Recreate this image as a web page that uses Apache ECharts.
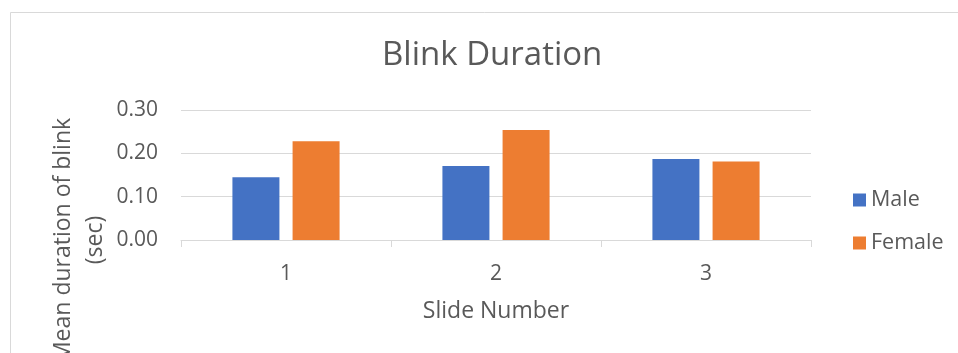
<!DOCTYPE html>
<html>
<head>
<meta charset="utf-8">
<script src="https://cdn.jsdelivr.net/npm/echarts@6/dist/echarts.min.js"></script>
<style>
  html, body { margin: 0; padding: 0; background: #ffffff; }
  #chart { width: 958px; height: 353px; }
</style>
</head>
<body>
<div id="chart"></div>
<script>
// Mean blink duration per slide, split by gender
const slides = ['1', '2', '3'];
const maleValues = [0.145, 0.171, 0.187];
const femaleValues = [0.228, 0.254, 0.181];
const seriesNames = ['Male', 'Female'];
const chartTitle = 'Blink Duration';
const xAxisTitle = 'Slide Number';
const yAxisTitle = 'Mean duration of blink\n(sec)';

const textColor = '#595959';
const lineColor = '#d9d9d9';
const fontFamily = '"Open Sans", "Segoe UI", sans-serif';

const chart = echarts.init(document.getElementById('chart'), null, { renderer: 'canvas' });

chart.setOption({
  backgroundColor: '#ffffff',
  animation: false,
  title: {
    text: chartTitle,
    left: 382,
    top: 39,
    padding: 0,
    textStyle: { color: textColor, fontFamily: fontFamily, fontSize: 33, fontWeight: 'normal' }
  },
  legend: {
    orient: 'vertical',
    left: 853,
    top: 189,
    itemWidth: 13,
    itemHeight: 13,
    itemGap: 21,
    padding: 0,
    icon: 'rect',
    textStyle: { color: textColor, fontFamily: fontFamily, fontSize: 21.5 },
    data: seriesNames
  },
  grid: { left: 181, right: 147, top: 110, bottom: 113, containLabel: false },
  xAxis: {
    type: 'category',
    data: slides,
    name: xAxisTitle,
    nameLocation: 'middle',
    nameGap: 60,
    nameTextStyle: { color: textColor, fontFamily: fontFamily, fontSize: 23 },
    axisLine: { lineStyle: { color: lineColor, width: 1 } },
    axisTick: { show: true, alignWithLabel: false, length: 7, lineStyle: { color: lineColor } },
    axisLabel: { color: textColor, fontFamily: fontFamily, fontSize: 21, margin: 24 }
  },
  yAxis: {
    type: 'value',
    min: 0,
    max: 0.3,
    interval: 0.1,
    axisLine: { show: false },
    axisTick: { show: false },
    splitLine: { lineStyle: { color: lineColor, width: 1 } },
    axisLabel: {
      color: textColor,
      fontFamily: fontFamily,
      fontSize: 21,
      margin: 23,
      formatter: v => v.toFixed(2)
    }
  },
  series: [
    {
      name: seriesNames[0],
      type: 'bar',
      data: maleValues,
      barWidth: 47,
      barGap: '28%',
      itemStyle: { color: '#4472C4' }
    },
    {
      name: seriesNames[1],
      type: 'bar',
      data: femaleValues,
      barWidth: 47,
      barGap: '28%',
      itemStyle: { color: '#ED7D31' }
    }
  ],
  graphic: [
    {
      type: 'rect',
      silent: true,
      z: -1,
      shape: { x: 10.5, y: 12.5, width: 1000, height: 400 },
      style: { fill: 'none', stroke: lineColor, lineWidth: 1 }
    },
    {
      type: 'text',
      silent: true,
      x: 79,
      y: 240,
      rotation: Math.PI / 2,
      style: {
        text: yAxisTitle,
        fill: textColor,
        font: '23px ' + fontFamily,
        lineHeight: 32,
        align: 'center',
        verticalAlign: 'middle'
      }
    }
  ]
});
</script>
</body>
</html>
